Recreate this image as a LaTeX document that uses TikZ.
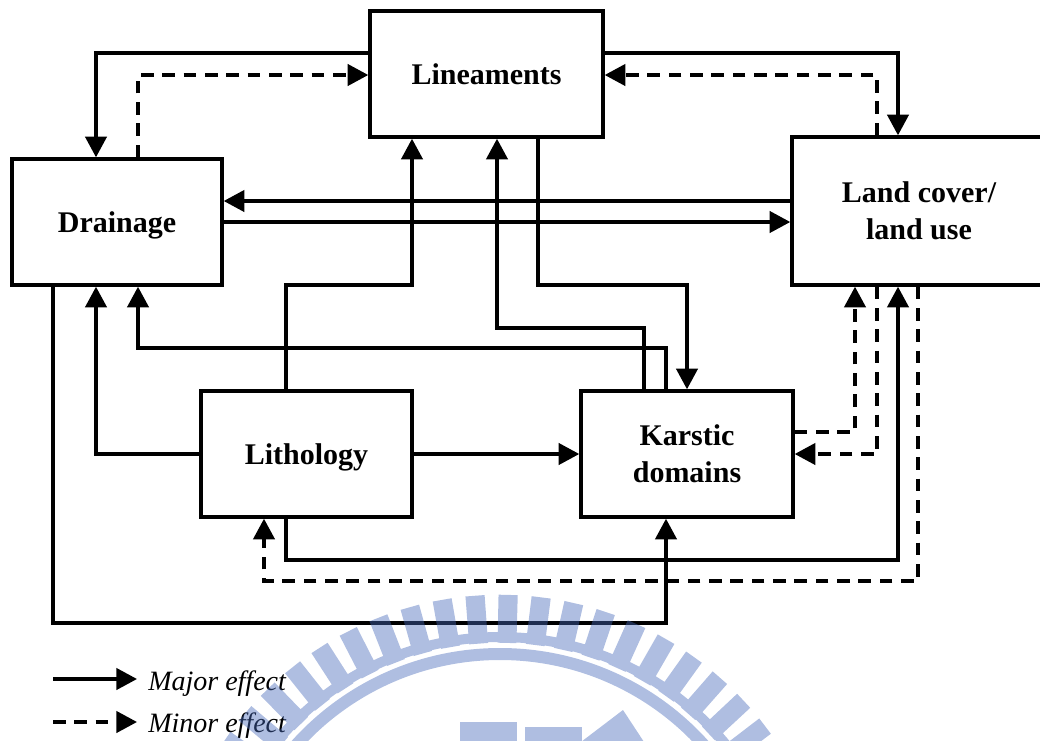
\documentclass[tikz,border=0pt]{standalone}
\usepackage{fontspec}
\setmainfont{Liberation Serif}
\usetikzlibrary{arrows.meta}
\definecolor{seal}{RGB}{70,105,186}
\tikzset{
  box/.style={draw, line width=2.6pt, inner sep=0pt, align=center,
    font=\fontsize{22.5pt}{27.75pt}\selectfont\bfseries},
  major/.style={line width=2.5pt, -{Triangle[length=15.5pt,width=16pt]}},
  minor/.style={major, dash pattern=on 9.5pt off 6.5pt},
  key/.style={font=\fontsize{21pt}{25pt}\selectfont\itshape, inner sep=0pt, anchor=base west},
}
\begin{document}
\begin{tikzpicture}[x=0.75pt,y=-0.75pt]
\clip (0,0) rectangle (1040,740);

% boxes
\node[box, minimum width=174.75pt, minimum height=94.5pt] (lin) at (486.5,74) {Lineaments};
\node[box, minimum width=157.5pt, minimum height=94.5pt, text depth=0pt] (drn) at (117,222) {Drainage};
\node[box, minimum width=190.5pt, minimum height=111pt] (lcv) at (919,211) {Land cover/\\land use};
\node[box, minimum width=158.25pt, minimum height=94.5pt, text depth=0pt] (lit) at (306.5,454) {Lithology};
\node[box, minimum width=159pt, minimum height=94.5pt] (kar) at (687,454) {Karstic\\domains};

% top loops
\draw[major] (lin.west |- 0,53) -| (drn.north -| 96,0);
\draw[minor] (drn.north -| 138,0) |- (lin.west |- 0,75);
\draw[major] (lin.east |- 0,53) -| (lcv.north -| 898,0);
\draw[minor] (lcv.north -| 877,0) |- (lin.east |- 0,75);

% drainage <-> land cover
\draw[major] (lcv.west |- 0,201) -- (drn.east |- 0,201);
\draw[major] (drn.east) -- (lcv.west |- drn.east);

% links through the middle
\draw[major] (lit.north -| 286,0) -- (286,285) -| (lin.south -| 412,0);
\draw[major] (kar.north -| 644,0) -- (644,328) -| (lin.south -| 497,0);
\draw[major] (kar.north -| 666,0) -- (666,348) -| (drn.south -| 138,0);
\draw[major] (lin.south -| 538,0) -- (538,285) -| (kar.north -| 687,0);
\draw[major] (lit.west) -| (drn.south -| 96,0);
\draw[major] (lit.east) -- (kar.west);

% lower loops
\draw[major] (lit.south -| 286,0) -- (286,560) -| (lcv.south -| 898,0);
\draw[minor] (lcv.south -| 918,0) -- (918,581) -| (lit.south -| 264,0);
\draw[major] (drn.south -| 53,0) -- (53,623) -| (kar.south -| 666,0);
\draw[minor] (kar.east |- 0,432) -| (lcv.south -| 855,0);
\draw[minor] (lcv.south -| 877,0) |- (kar.east);

% legend
\coordinate (ma) at (53,679); \coordinate (mb) at (137,679);
\draw[major] (ma) -- (mb);
\node[key] (mt) at (148,690) {Major effect};
\coordinate (na) at (53,722); \coordinate (nb) at (137,722);
\draw[minor] (na) -- (nb);
\node[key] (nt) at (148,732) {Minor effect};

% seal printed over the page
\begin{scope}[fill=seal, fill opacity=.43]
  \begin{scope}[shift={(500,928)}]
    \fill (0:222pt) arc[start angle=0, end angle=360, radius=222pt]
      -- (0:214.5pt) arc[start angle=360, end angle=0, radius=214.5pt] -- cycle
      \foreach \a in {20.2,25.9,...,157.0} {
        (\a-1.9:214pt) -- (\a-1.65:250pt) -- (\a+1.65:250pt) -- (\a+1.9:214pt) -- cycle
      };
    \fill[even odd rule] (0,0) circle[radius=210pt] (0,0) circle[radius=201pt];
  \end{scope}
  \fill (460,722) rectangle (517,745);
  \fill (525,727) rectangle (582,745);
  \fill (577,745) -- (623,710) -- (646,745) -- cycle;
\end{scope}
\end{tikzpicture}
\end{document}
